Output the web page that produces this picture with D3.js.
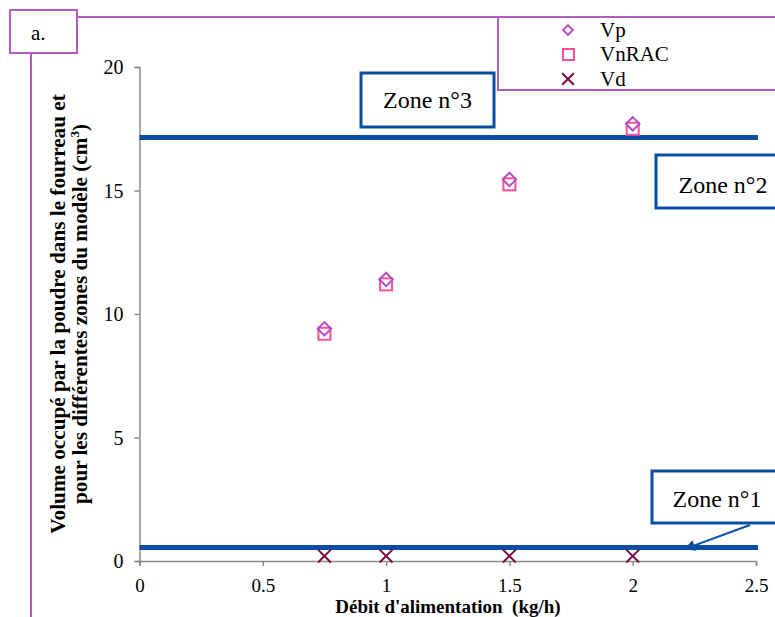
<!DOCTYPE html>
<html><head><meta charset="utf-8">
<script src="https://cdn.jsdelivr.net/npm/d3@7"></script>
<style>
html,body{margin:0;padding:0;background:#fff;}
svg{display:block;font-family:"Liberation Serif","Times New Roman",serif;}
svg text{font-family:"Liberation Serif","Times New Roman",serif;}
</style></head>
<body>
<svg id="chart" width="775" height="617"></svg>
<script>
// ---- data ----
const flowRates = [0.75, 1, 1.5, 2];
const vpValues = [9.4, 11.4, 15.45, 17.7];
const vnracValues = [9.2, 11.2, 15.25, 17.5];
const vdValues = [0.2, 0.2, 0.2, 0.2];
const xTicks = [0, 0.5, 1, 1.5, 2, 2.5];
const yTicks = [0, 5, 10, 15, 20];
const zoneLevels = [17.15, 0.55]; // boundaries between zones
const seriesNames = ["Vp", "VnRAC", "Vd"];
const zoneLabels = ["Zone n°3", "Zone n°2", "Zone n°1"];

const svg = d3.select("#chart");
const purple = "#b25cc0";
const blue = "#0a4ea3";
const colVp = "#b44fc4", colVn = "#ff4f98", colVd = "#7a0a45";

const x = d3.scaleLinear().domain([0, 2.5]).range([139.5, 756]);
const y = d3.scaleLinear().domain([0, 20]).range([561, 67]);

// outer frame
svg.append("line").attr("x1", 77).attr("x2", 775).attr("y1", 17).attr("y2", 17).attr("stroke", purple).attr("stroke-width", 2);
svg.append("line").attr("x1", 31).attr("x2", 31).attr("y1", 53).attr("y2", 617).attr("stroke", purple).attr("stroke-width", 2);
svg.append("rect").attr("x", 10).attr("y", 10).attr("width", 67).attr("height", 43).attr("fill", "#fff").attr("stroke", purple).attr("stroke-width", 2);
svg.append("text").attr("x", 31).attr("y", 40).attr("font-size", 21).text("a.");

// axes
const gx = svg.append("g").attr("transform", "translate(0,561)")
  .call(d3.axisBottom(x).tickValues(xTicks).tickFormat(d => d).tickSize(5).tickPadding(13));
const gy = svg.append("g").attr("transform", "translate(139.5,0)")
  .call(d3.axisLeft(y).tickValues(yTicks).tickFormat(d => d).tickSize(5).tickPadding(11));
[gx, gy].forEach(g => {
  g.attr("font-family", null).attr("font-size", null);
  g.select(".domain").attr("stroke", "#8a8a8a").attr("stroke-width", 1.5);
  g.selectAll(".tick line").attr("stroke", "#8a8a8a").attr("stroke-width", 1.5);
  g.selectAll("text").attr("fill", "#000");
});
gx.selectAll("text").style("font-size", "19px");
gy.selectAll("text").style("font-size", "20px").attr("dy", "0.33em");

// axis titles
svg.append("text").attr("x", 448).attr("y", 612.8).attr("text-anchor", "middle")
  .attr("font-size", 19).attr("font-weight", "bold").attr("xml:space", "preserve").text("Débit d'alimentation  (kg/h)");
const yt = svg.append("text").attr("transform", "translate(65,314) rotate(-90)")
  .attr("text-anchor", "middle").attr("font-size", 21.2).attr("font-weight", "bold");
yt.append("tspan").attr("x", 0).attr("y", 0).text("Volume occupé par la poudre dans le fourreau et");
const t2 = yt.append("tspan").attr("x", 0).attr("y", 21.5).text("pour les différentes zones du modèle (cm");
t2.append("tspan").attr("dy", -8).attr("font-size", 13).text("3");
t2.append("tspan").attr("dy", 8).text(")");

// zone boundary lines
svg.selectAll(".zline").data(zoneLevels).enter().append("line")
  .attr("x1", x(0)).attr("x2", x(2.5) + 2)
  .attr("y1", d => y(d)).attr("y2", d => y(d))
  .attr("stroke", blue).attr("stroke-width", 5);

// series markers
const diamond = d3.symbol().type(d3.symbolDiamond2).size(115);
svg.selectAll(".vn").data(flowRates).enter().append("rect")
  .attr("x", (d) => x(d) - 6).attr("y", (d, i) => y(vnracValues[i]) - 6)
  .attr("width", 12).attr("height", 12).attr("fill", "none").attr("stroke", colVn).attr("stroke-width", 2);
svg.selectAll(".vp").data(flowRates).enter().append("path")
  .attr("d", diamond).attr("transform", (d, i) => `translate(${x(d)},${y(vpValues[i])})`)
  .attr("fill", "none").attr("stroke", colVp).attr("stroke-width", 2);
svg.selectAll(".vd").data(flowRates).enter().append("path")
  .attr("d", d3.symbol().type(d3.symbolX).size(110)).attr("transform", (d, i) => `translate(${x(d)},${y(vdValues[i])})`)
  .attr("fill", "none").attr("stroke", colVd).attr("stroke-width", 2);

// zone label boxes
function zoneBox(bx, by, w, h, label, tx, tb) {
  svg.append("rect").attr("x", bx).attr("y", by).attr("width", w).attr("height", h)
    .attr("fill", "#fff").attr("stroke", blue).attr("stroke-width", 3);
  svg.append("text").attr("x", bx + tx).attr("y", by + tb).attr("text-anchor", "middle")
    .attr("font-size", 24).text(label);
}
zoneBox(361, 73, 133, 54, zoneLabels[0], 66.5, 35);
zoneBox(656, 155, 140, 53, zoneLabels[1], 67, 38);
zoneBox(652, 471, 140, 52, zoneLabels[2], 65, 36);

// arrow for zone 1
const defs = svg.append("defs");
defs.append("marker").attr("id", "arr").attr("viewBox", "0 0 10 10").attr("refX", 9).attr("refY", 5)
  .attr("markerWidth", 7).attr("markerHeight", 5.5).attr("orient", "auto")
  .append("path").attr("d", "M0,0 L10,5 L0,10 z").attr("fill", blue);
svg.append("line").attr("x1", 750).attr("y1", 525).attr("x2", 685).attr("y2", y(zoneLevels[1]) + 1.5)
  .attr("stroke", blue).attr("stroke-width", 2).attr("marker-end", "url(#arr)");

// legend
svg.append("rect").attr("x", 498).attr("y", 17).attr("width", 290).attr("height", 73)
  .attr("fill", "#fff").attr("stroke", purple).attr("stroke-width", 2);
const lg = svg.append("g");
const legY = [30, 54, 79];
seriesNames.forEach((n, i) => {
  const cy = legY[i];
  if (i === 0) lg.append("path").attr("d", d3.symbol().type(d3.symbolDiamond2).size(60)).attr("transform", `translate(568,${cy})`).attr("fill", "none").attr("stroke", colVp).attr("stroke-width", 2);
  if (i === 1) lg.append("rect").attr("x", 563).attr("y", cy - 5).attr("width", 11).attr("height", 11).attr("fill", "none").attr("stroke", colVn).attr("stroke-width", 2);
  if (i === 2) lg.append("path").attr("d", d3.symbol().type(d3.symbolX).size(90)).attr("transform", `translate(568,${cy})`).attr("fill", "none").attr("stroke", colVd).attr("stroke-width", 2);
  lg.append("text").attr("x", 600).attr("y", cy + 7).attr("font-size", 21).text(n);
});
</script>
</body></html>
